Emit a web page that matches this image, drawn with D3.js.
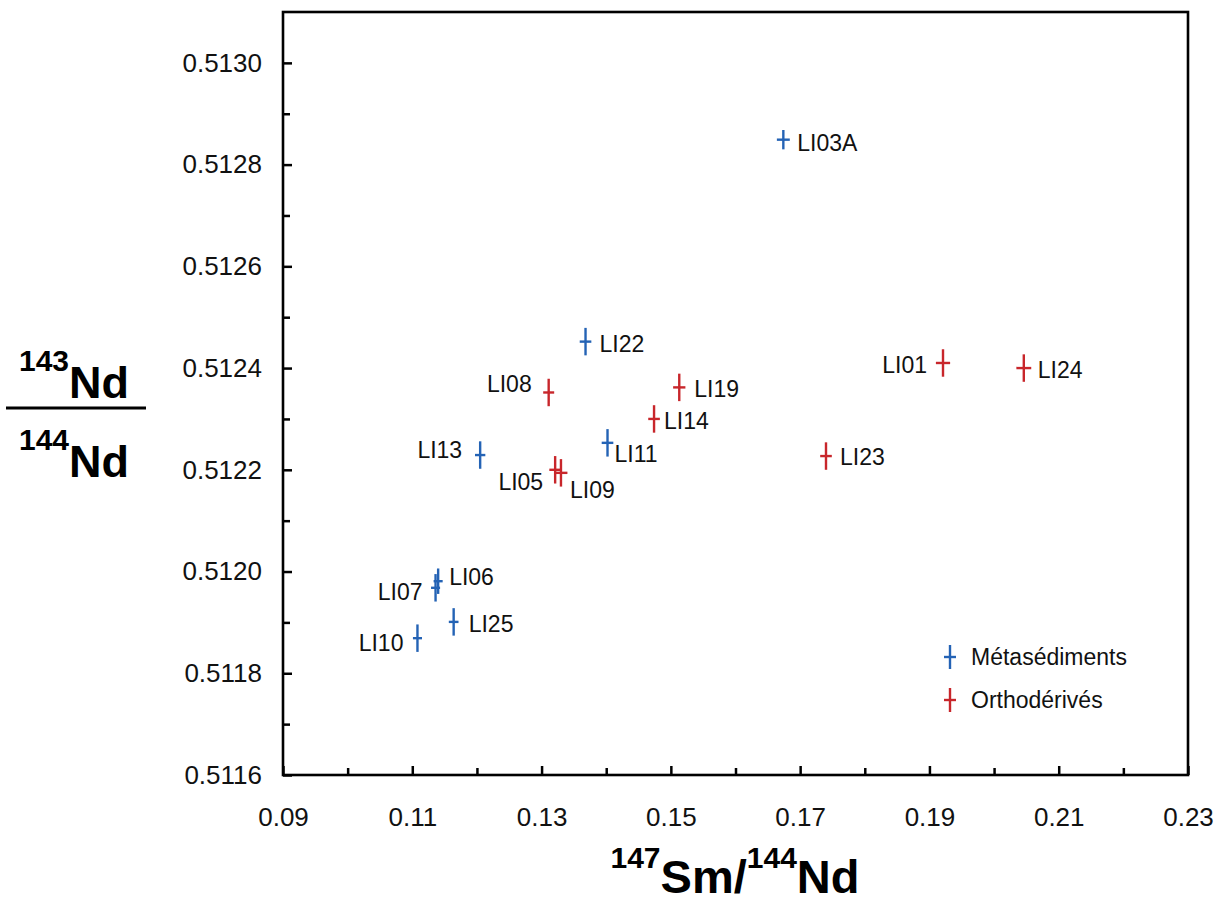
<!DOCTYPE html>
<html>
<head>
<meta charset="utf-8">
<script src="https://cdn.jsdelivr.net/npm/d3@7"></script>
<style>
  html, body { margin: 0; padding: 0; background: #fff; }
  svg { display: block; font-family: "Liberation Sans", Arial, Helvetica, sans-serif; }
</style>
</head>
<body>
<svg id="chart" width="1223" height="902"></svg>
<script>
// ---- Data ----
const samples = ["LI03A","LI22","LI08","LI19","LI14","LI11","LI13","LI05","LI09","LI23","LI01","LI24","LI06","LI07","LI25","LI10"];
const groups  = ["M","M","O","O","O","M","M","O","O","O","O","O","M","M","M","M"];
const smNd    = [0.1674,0.1368,0.1311,0.1513,0.1474,0.1402,0.1205,0.1321,0.1330,0.1740,0.1921,0.2046,0.1140,0.1136,0.1164,0.1108];
const ndNd    = [0.512849,0.512452,0.512352,0.512362,0.512300,0.512253,0.512229,0.512200,0.512194,0.512227,0.512410,0.512400,0.511981,0.511968,0.511901,0.511869];
const smErr   = [0.0010,0.0009,0.00085,0.00095,0.0009,0.0009,0.0008,0.0009,0.0010,0.0009,0.0011,0.00115,0.0007,0.0007,0.00075,0.0007];
const ndErr   = [0.000019,0.000027,0.000027,0.000027,0.000027,0.000027,0.000027,0.000027,0.000027,0.000027,0.000027,0.000027,0.000025,0.000027,0.000027,0.000027];
const legendLabels = ["Métasédiments","Orthodérivés"];
const legendGroups = ["M","O"];
const xTickValues = [0.09,0.11,0.13,0.15,0.17,0.19,0.21,0.23];
const yTickValues = [0.5116,0.5118,0.5120,0.5122,0.5124,0.5126,0.5128,0.5130];

// ---- Layout (label placement, pixels) ----
const labelSide = ["R","R","L","R","R","R","L","L","R","R","L","R","R","L","R","L"];
const labelDx   = [14,14,-17,15,10,7,-18,-12,9,14,-16,14,11,-13,15,-14];
const labelDy   = [3,2,-9,1.5,2,11,-5,12,17,1,2,2,-4,4,2,5];

const colors = { M: "#2463b5", O: "#c8262b" };

const svg = d3.select("#chart");
const L = 283, R = 1188, T = 12, B = 775;

const x = d3.scaleLinear().domain([0.09, 0.23]).range([L, R]);
const y = d3.scaleLinear().domain([0.5116, 0.5131]).range([B, T]);

// Ticks (inward)
const xMinor = d3.range(0.10, 0.225, 0.02);
const yMinor = d3.range(0.5117, 0.51305, 0.0002);

const ax = svg.append("g").attr("transform", `translate(0,${B})`)
  .call(d3.axisBottom(x).tickValues(xTickValues).tickSizeInner(-9).tickSizeOuter(0).tickPadding(33).tickFormat(d3.format(".2f")));
ax.select(".domain").remove();
ax.selectAll(".tick line").attr("stroke", "#000").attr("stroke-width", 2.5);
ax.selectAll(".tick text").attr("font-size", 26).attr("fill", "#111");

const axm = svg.append("g").attr("transform", `translate(0,${B})`)
  .call(d3.axisBottom(x).tickValues(xMinor).tickSizeInner(-7).tickSizeOuter(0).tickFormat(""));
axm.select(".domain").remove();
axm.selectAll(".tick line").attr("stroke", "#000").attr("stroke-width", 2.5);

const ay = svg.append("g").attr("transform", `translate(${L},0)`)
  .call(d3.axisLeft(y).tickValues(yTickValues).tickSizeInner(-9).tickSizeOuter(0).tickPadding(21).tickFormat(d3.format(".4f")));
ay.select(".domain").remove();
ay.selectAll(".tick line").attr("stroke", "#000").attr("stroke-width", 2.5);
ay.selectAll(".tick text").attr("font-size", 26).attr("fill", "#111");

const aym = svg.append("g").attr("transform", `translate(${L},0)`)
  .call(d3.axisLeft(y).tickValues(yMinor).tickSizeInner(-7).tickSizeOuter(0).tickFormat(""));
aym.select(".domain").remove();
aym.selectAll(".tick line").attr("stroke", "#000").attr("stroke-width", 2.5);

// Frame
svg.append("rect").attr("x", L).attr("y", T).attr("width", R - L).attr("height", B - T)
  .attr("fill", "none").attr("stroke", "#000").attr("stroke-width", 2.6);

// Points as crosses (error bars)
const data = samples.map((s, i) => ({ s, g: groups[i], x: smNd[i], y: ndNd[i], ex: smErr[i], ey: ndErr[i],
  side: labelSide[i], dx: labelDx[i], dy: labelDy[i] }));

const pts = svg.append("g").selectAll("g").data(data).join("g");
pts.append("line")
  .attr("x1", d => x(d.x)).attr("x2", d => x(d.x))
  .attr("y1", d => y(d.y - d.ey)).attr("y2", d => y(d.y + d.ey))
  .attr("stroke", d => colors[d.g]).attr("stroke-width", 2.4);
pts.append("line")
  .attr("x1", d => x(d.x - d.ex)).attr("x2", d => x(d.x + d.ex))
  .attr("y1", d => y(d.y)).attr("y2", d => y(d.y))
  .attr("stroke", d => colors[d.g]).attr("stroke-width", 2.4);
pts.append("text")
  .attr("x", d => x(d.x) + d.dx).attr("y", d => y(d.y) + d.dy)
  .attr("dy", "0.35em")
  .attr("text-anchor", d => d.side === "L" ? "end" : "start")
  .attr("font-size", 23).attr("fill", "#111")
  .text(d => d.s);

// Legend
const lg = svg.append("g").selectAll("g").data(legendLabels).join("g")
  .attr("transform", (d, i) => `translate(950,${657 + i * 43})`);
lg.append("line").attr("x1", 0).attr("x2", 0).attr("y1", -12).attr("y2", 12)
  .attr("stroke", (d, i) => colors[legendGroups[i]]).attr("stroke-width", 2.4);
lg.append("line").attr("x1", -6).attr("x2", 6).attr("y1", 0).attr("y2", 0)
  .attr("stroke", (d, i) => colors[legendGroups[i]]).attr("stroke-width", 2.4);
lg.append("text").attr("x", 21).attr("y", 0).attr("dy", "0.35em")
  .attr("font-size", 23).attr("fill", "#111").text(d => d);

// X title
const xt = svg.append("text").attr("x", 735).attr("y", 893).attr("text-anchor", "middle")
  .attr("font-weight", "bold").attr("fill", "#000");
xt.append("tspan").attr("font-size", 30).attr("dy", -25).text("147");
xt.append("tspan").attr("font-size", 47).attr("dy", 25).text("Sm/");
xt.append("tspan").attr("font-size", 30).attr("dy", -25).text("144");
xt.append("tspan").attr("font-size", 47).attr("dy", 25).text("Nd");

// Y title (fraction)
const yt1 = svg.append("text").attr("x", 74).attr("y", 398).attr("text-anchor", "middle")
  .attr("font-weight", "bold").attr("fill", "#000");
yt1.append("tspan").attr("font-size", 30).attr("dy", -27).text("143");
yt1.append("tspan").attr("font-size", 45).attr("dy", 27).text("Nd");
svg.append("line").attr("x1", 6).attr("x2", 146).attr("y1", 408).attr("y2", 408)
  .attr("stroke", "#000").attr("stroke-width", 3);
const yt2 = svg.append("text").attr("x", 74).attr("y", 477).attr("text-anchor", "middle")
  .attr("font-weight", "bold").attr("fill", "#000");
yt2.append("tspan").attr("font-size", 30).attr("dy", -27).text("144");
yt2.append("tspan").attr("font-size", 45).attr("dy", 27).text("Nd");
</script>
</body>
</html>
